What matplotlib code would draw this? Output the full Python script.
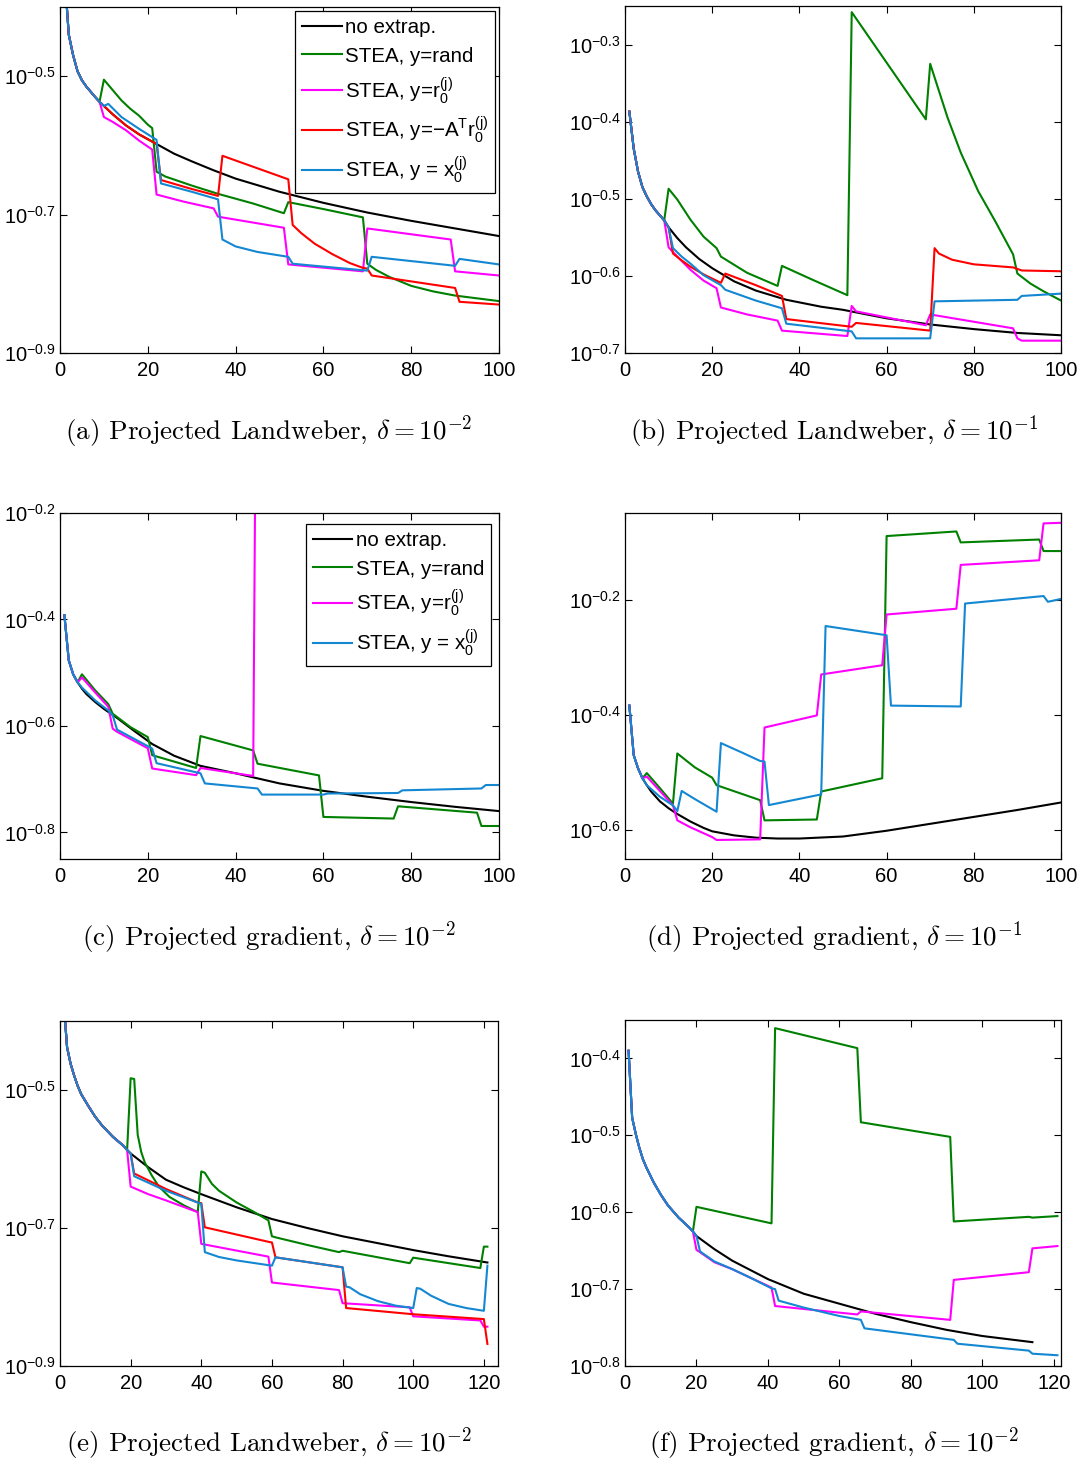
import numpy as np
import matplotlib
matplotlib.use("Agg")
import matplotlib.pyplot as plt
from matplotlib.ticker import NullLocator

plt.rcParams['font.family'] = ['Liberation Sans', 'DejaVu Sans']
plt.rcParams['mathtext.fontset'] = 'custom'
plt.rcParams['mathtext.rm'] = 'Liberation Sans'
plt.rcParams['mathtext.it'] = 'Liberation Sans:italic'
plt.rcParams['mathtext.bf'] = 'Liberation Sans:bold'

# curves: (iteration, log10 of the error)
# (a) projected Landweber, delta = 1e-2
a_black = [(1, -0.35), (2, -0.44), (3, -0.47), (4, -0.493), (5, -0.506), (6, -0.515),
           (8, -0.53), (9, -0.537), (10, -0.543), (12, -0.555), (15, -0.571), (18, -0.584),
           (22, -0.598), (26, -0.612), (30, -0.623), (35, -0.636), (40, -0.648), (50, -0.667),
           (60, -0.683), (70, -0.697), (80, -0.709), (90, -0.72), (100, -0.731)]
a_green = [(10, -0.505), (12, -0.52), (14, -0.535), (16, -0.547), (18, -0.557), (20, -0.57),
           (21, -0.575), (22, -0.638), (24, -0.645), (30, -0.658), (36, -0.67), (44, -0.684),
           (51, -0.698), (52, -0.682), (60, -0.692), (69, -0.704), (70, -0.771), (72, -0.78),
           (75, -0.79), (80, -0.803), (85, -0.811), (90, -0.817), (100, -0.825)]
a_magenta = [(10, -0.559), (12, -0.566), (15, -0.578), (18, -0.593), (21, -0.606), (22, -0.671),
             (28, -0.681), (35, -0.691), (36, -0.703), (51, -0.719), (52, -0.772), (69, -0.782),
             (70, -0.72), (89, -0.736), (90, -0.782), (100, -0.788)]
a_red = [(23, -0.65), (30, -0.663), (36, -0.673), (37, -0.615), (52, -0.649), (53, -0.715),
         (55, -0.727), (58, -0.742), (62, -0.757), (66, -0.77), (69, -0.777), (70, -0.778),
         (71, -0.788), (90, -0.806), (91, -0.826), (100, -0.83)]
a_blue = [(11, -0.54), (14, -0.559), (18, -0.576), (22, -0.592), (23, -0.655), (30, -0.667),
          (36, -0.678), (37, -0.736), (40, -0.746), (45, -0.754), (52, -0.761), (53, -0.771),
          (70, -0.781), (71, -0.761), (90, -0.774), (91, -0.764), (100, -0.772)]

# (b) projected Landweber, delta = 1e-1
b_black = [(1, -0.387), (2, -0.435), (3, -0.465), (4, -0.485), (5, -0.497), (6, -0.507),
           (7, -0.515), (9, -0.528), (10, -0.537), (12, -0.551), (14, -0.563), (17, -0.578),
           (20, -0.59), (25, -0.607), (30, -0.619), (37, -0.631), (45, -0.64), (50, -0.644),
           (60, -0.655), (70, -0.663), (80, -0.669), (90, -0.674), (100, -0.677)]
b_green = [(10, -0.487), (12, -0.501), (15, -0.527), (18, -0.549), (21, -0.564), (22, -0.575),
           (28, -0.596), (35, -0.613), (36, -0.587), (43, -0.605), (51, -0.625), (52, -0.258),
           (69, -0.397), (70, -0.325), (72, -0.36), (74, -0.395), (77, -0.44), (81, -0.49),
           (85, -0.53), (89, -0.572), (90, -0.597), (93, -0.61), (96, -0.62), (100, -0.632)]
b_magenta = [(10, -0.563), (12, -0.575), (15, -0.592), (18, -0.606), (21, -0.616), (22, -0.641),
             (28, -0.65), (35, -0.658), (36, -0.671), (51, -0.678), (52, -0.639), (53, -0.646),
             (69, -0.664), (70, -0.65), (89, -0.668), (90, -0.681), (91, -0.684), (100, -0.684)]
b_red = [(11, -0.571), (13, -0.58), (15, -0.588), (18, -0.598), (22, -0.609), (23, -0.597),
         (30, -0.612), (36, -0.626), (37, -0.656), (52, -0.666), (53, -0.661), (70, -0.671),
         (71, -0.564), (72, -0.571), (75, -0.579), (80, -0.585), (89, -0.589), (91, -0.593),
         (100, -0.594)]
b_blue = [(11, -0.564), (13, -0.575), (15, -0.584), (18, -0.599), (22, -0.612), (23, -0.618),
          (30, -0.632), (36, -0.642), (37, -0.662), (52, -0.672), (53, -0.681), (70, -0.681),
          (71, -0.633), (90, -0.631), (91, -0.626), (100, -0.623)]

# (c) projected gradient, delta = 1e-2
c_black = [(1, -0.392), (2, -0.477), (3, -0.503), (4, -0.518), (5, -0.53), (6, -0.54),
           (8, -0.555), (10, -0.568), (13, -0.585), (17, -0.61), (21, -0.634), (26, -0.656),
           (32, -0.675), (40, -0.689), (50, -0.708), (60, -0.722), (70, -0.733), (80, -0.743),
           (90, -0.752), (100, -0.76)]
c_green = [(5, -0.503), (8, -0.533), (11, -0.559), (12, -0.577), (16, -0.602), (20, -0.621),
           (21, -0.655), (31, -0.679), (32, -0.619), (44, -0.646), (45, -0.671), (59, -0.693),
           (60, -0.771), (76, -0.774), (77, -0.751), (95, -0.763), (96, -0.788), (100, -0.788)]
c_magenta = [(5, -0.509), (8, -0.537), (11, -0.564), (12, -0.605), (13, -0.611), (20, -0.642),
             (21, -0.68), (31, -0.6925), (32, -0.679), (44, -0.694), (45, 0.5)]
c_blue = [(5, -0.528), (8, -0.552), (11, -0.571), (12, -0.58), (13, -0.607), (21, -0.6425),
          (22, -0.67), (32, -0.689), (33, -0.708), (45, -0.7175), (46, -0.729), (60, -0.729),
          (61, -0.727), (77, -0.726), (78, -0.721), (96, -0.7175), (97, -0.711), (100, -0.711)]

# (d) projected gradient, delta = 1e-1
d_black = [(1, -0.384), (2, -0.47), (3, -0.493), (4, -0.51), (5, -0.522), (6, -0.533),
           (8, -0.55), (10, -0.562), (12, -0.572), (15, -0.585), (18, -0.596), (20, -0.602),
           (25, -0.609), (30, -0.613), (35, -0.6145), (40, -0.6145), (50, -0.611), (60, -0.601),
           (70, -0.589), (80, -0.577), (90, -0.565), (100, -0.552)]
d_green = [(5, -0.501), (8, -0.527), (11, -0.554), (12, -0.467), (16, -0.491), (20, -0.509),
           (21, -0.522), (31, -0.548), (32, -0.583), (44, -0.5815), (45, -0.533), (59, -0.51),
           (60, -0.09), (76, -0.082), (77, -0.101), (95, -0.096), (96, -0.116), (100, -0.116)]
d_magenta = [(5, -0.507), (8, -0.532), (11, -0.557), (12, -0.583), (15, -0.595), (20, -0.612),
             (21, -0.617), (31, -0.616), (32, -0.422), (44, -0.401), (45, -0.33), (59, -0.314),
             (60, -0.226), (76, -0.216), (77, -0.14), (95, -0.132), (96, -0.068), (100, -0.067)]
d_blue = [(5, -0.522), (8, -0.542), (11, -0.557), (12, -0.567), (13, -0.532), (16, -0.546),
          (21, -0.568), (22, -0.449), (27, -0.466), (31, -0.48), (32, -0.481), (33, -0.5565),
          (45, -0.538), (46, -0.246), (60, -0.262), (61, -0.384), (77, -0.3855), (78, -0.207),
          (96, -0.194), (97, -0.204), (100, -0.199)]

# (e) projected Landweber, delta = 1e-2, longer run
e_black = [(1, -0.37), (2, -0.438), (3, -0.462), (4, -0.479), (5, -0.494), (6, -0.506),
           (8, -0.523), (10, -0.539), (12, -0.552), (15, -0.568), (18, -0.581), (19, -0.587),
           (20, -0.592), (25, -0.612), (30, -0.63), (35, -0.641), (40, -0.651), (50, -0.67),
           (60, -0.687), (70, -0.7), (80, -0.712), (90, -0.722), (100, -0.732), (110, -0.741),
           (121, -0.75)]
e_green = [(20, -0.483), (21, -0.484), (22, -0.565), (23, -0.59), (24, -0.605), (26, -0.624),
           (28, -0.64), (31, -0.655), (35, -0.667), (39, -0.677), (40, -0.618), (41, -0.62),
           (43, -0.636), (45, -0.646), (50, -0.663), (55, -0.677), (59, -0.689), (60, -0.712),
           (61, -0.7135), (70, -0.7246), (79, -0.735), (80, -0.733), (99, -0.751), (100, -0.743),
           (119, -0.758), (120, -0.727), (121, -0.727)]
e_magenta = [(20, -0.64), (25, -0.651), (30, -0.66), (39, -0.677), (40, -0.723), (59, -0.7415),
             (60, -0.779), (79, -0.79), (80, -0.809), (99, -0.815), (100, -0.828), (119, -0.834),
             (120, -0.843), (121, -0.843)]
e_red = [(21, -0.621), (30, -0.6435), (39, -0.663), (40, -0.664), (41, -0.699), (59, -0.72),
         (60, -0.721), (61, -0.7425), (80, -0.757), (81, -0.816), (100, -0.825), (120, -0.832),
         (121, -0.868)]
e_blue = [(21, -0.625), (30, -0.646), (40, -0.665), (41, -0.735), (45, -0.742), (50, -0.747),
          (60, -0.7546), (61, -0.7425), (80, -0.757), (81, -0.785), (82, -0.786), (85, -0.796),
          (90, -0.806), (95, -0.8125), (100, -0.816), (101, -0.787), (102, -0.788), (105, -0.798),
          (110, -0.81), (115, -0.816), (120, -0.82), (121, -0.7546)]

# (f) projected gradient, delta = 1e-2, longer run
f_black = [(1, -0.39), (2, -0.477), (3, -0.498), (4, -0.516), (5, -0.531), (6, -0.542),
           (8, -0.561), (10, -0.577), (12, -0.591), (15, -0.607), (18, -0.62), (19, -0.625),
           (20, -0.631), (25, -0.648), (30, -0.663), (40, -0.687), (50, -0.706), (60, -0.719),
           (70, -0.732), (80, -0.743), (90, -0.753), (100, -0.761), (114, -0.769)]
f_green = [(20, -0.593), (41, -0.6145), (42, -0.3606), (65, -0.3866), (66, -0.483), (91, -0.502),
           (92, -0.612), (113, -0.606), (114, -0.607), (121, -0.605)]
f_magenta = [(20, -0.649), (21, -0.652), (25, -0.665), (30, -0.674), (35, -0.685), (41, -0.698),
             (42, -0.722), (65, -0.733), (66, -0.729), (91, -0.74), (92, -0.688), (113, -0.678),
             (114, -0.647), (121, -0.644)]
f_blue = [(21, -0.651), (25, -0.664), (30, -0.674), (35, -0.685), (41, -0.699), (42, -0.70),
          (43, -0.715), (50, -0.724), (60, -0.735), (66, -0.74), (67, -0.751), (92, -0.766),
          (93, -0.771), (113, -0.78), (114, -0.784), (121, -0.786)]

COLORS = {'black': '#000000', 'green': '#008000', 'magenta': '#ff00ff',
          'red': '#ff0000', 'blue': '#1387d2'}
LABELS = {'black': 'no extrap.',
          'green': 'STEA, y=rand',
          'magenta': r'STEA, y=r$_0^{\mathrm{(j)}}$',
          'red': r'STEA, y=$\mathrm{-A}^\mathrm{T}\mathrm{r}_0^{\mathrm{(j)}}$',
          'blue': r'STEA, y = x$_0^{\mathrm{(j)}}$'}

W, H = 1086, 1460


def upto(curve, k):
    # part of the reference curve shared by an extrapolated run (same iterates)
    return [p for p in curve if p[0] <= k]


def panel(box, curves, xlim, ylim, yticks, xticks, caption, cap_x, cap_y, legend=None):
    l, t, r, b = box
    ax = plt.gcf().add_axes([l / W, 1 - b / H, (r - l) / W, (b - t) / H])
    handles = {}
    for name, pts in curves:
        x, e = zip(*pts)
        handles[name], = ax.semilogy(x, 10 ** np.array(e), color=COLORS[name], lw=1.5)
    ax.set_xlim(*xlim)
    ax.set_ylim(10 ** ylim[0], 10 ** ylim[1])
    ax.set_yticks([10 ** v for v in yticks])
    ax.set_yticklabels([r'$10^{%g}$' % v for v in yticks])
    ax.yaxis.set_minor_locator(NullLocator())
    ax.set_xticks(xticks)
    ax.tick_params(direction='in', top=True, right=True, length=5, width=0.8,
                   labelsize=14.5)
    ax.tick_params(axis='y', pad=3)
    ax.tick_params(axis='x', pad=6)
    for s in ax.spines.values():
        s.set_linewidth(0.9)
    if legend is not None:
        names = [n for n, _ in curves]
        leg = ax.legend([handles[n] for n in names], [LABELS[n] for n in names],
                        loc='upper right', bbox_to_anchor=legend, borderaxespad=0,
                        fancybox=False, edgecolor='black', framealpha=1, fontsize=14.8,
                        handlelength=1.9, handletextpad=0.15, labelspacing=0.45,
                        borderpad=0.35)
        leg.get_frame().set_linewidth(0.9)
    plt.gcf().text(cap_x / W, 1 - cap_y / H, caption, ha='center', va='baseline',
                   fontsize=19.5, family='cmr10', math_fontfamily='cm')
    return ax


fig = plt.figure(figsize=(W / 100, H / 100), dpi=100)

panel((60, 7, 499, 353),
      [('black', a_black), ('green', upto(a_black, 9) + a_green),
       ('magenta', upto(a_black, 9) + a_magenta), ('red', upto(a_black, 22) + a_red),
       ('blue', upto(a_black, 10) + a_blue)],
      (0, 100), (-0.9, -0.4), [-0.9, -0.7, -0.5], range(0, 101, 20),
      r'(a) Projected Landweber, $\delta = 10^{-2}$', 269, 440, legend=(0.991, 0.988))

panel((625, 6, 1061, 353),
      [('black', b_black), ('green', upto(b_black, 9) + b_green),
       ('magenta', upto(b_black, 9) + b_magenta), ('red', upto(b_black, 10) + b_red),
       ('blue', upto(b_black, 10) + b_blue)],
      (0, 100), (-0.7, -0.25), [-0.7, -0.6, -0.5, -0.4, -0.3], range(0, 101, 20),
      r'(b) Projected Landweber, $\delta = 10^{-1}$', 834, 440)

panel((60, 513, 499, 859),
      [('black', c_black), ('green', upto(c_black, 4) + c_green),
       ('magenta', upto(c_black, 4) + c_magenta), ('blue', upto(c_black, 4) + c_blue)],
      (0, 100), (-0.85, -0.2), [-0.8, -0.6, -0.4, -0.2], range(0, 101, 20),
      r'(c) Projected gradient, $\delta = 10^{-2}$', 269, 946, legend=(0.982, 0.968))

panel((625, 513, 1061, 859),
      [('black', d_black), ('green', upto(d_black, 4) + d_green),
       ('magenta', upto(d_black, 4) + d_magenta), ('blue', upto(d_black, 4) + d_blue)],
      (0, 100), (-0.65, -0.05), [-0.6, -0.4, -0.2], range(0, 101, 20),
      r'(d) Projected gradient, $\delta = 10^{-1}$', 834, 946)

panel((60, 1021, 498, 1366),
      [('black', e_black), ('green', upto(e_black, 19) + e_green),
       ('magenta', upto(e_black, 19) + e_magenta), ('red', upto(e_black, 20) + e_red),
       ('blue', upto(e_black, 20) + e_blue)],
      (0, 124), (-0.9, -0.4), [-0.9, -0.7, -0.5], range(0, 121, 20),
      r'(e) Projected Landweber, $\delta = 10^{-2}$', 269, 1452)

panel((625, 1020, 1061, 1366),
      [('black', f_black), ('green', upto(f_black, 19) + f_green),
       ('magenta', upto(f_black, 19) + f_magenta), ('blue', upto(f_black, 20) + f_blue)],
      (0, 122), (-0.8, -0.35), [-0.8, -0.7, -0.6, -0.5, -0.4], range(0, 121, 20),
      r'(f) Projected gradient, $\delta = 10^{-2}$', 834, 1452)

fig.savefig('out.png', dpi=100)
